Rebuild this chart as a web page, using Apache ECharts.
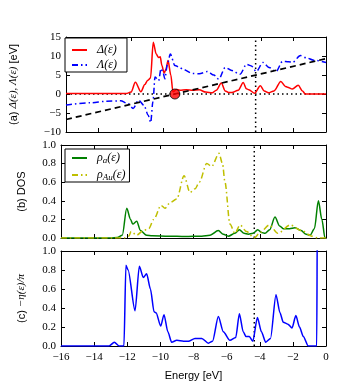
<!DOCTYPE html>
<html>
<head>
<meta charset="utf-8">
<script src="https://cdn.jsdelivr.net/npm/echarts@6/dist/echarts.min.js"></script>
<style>
  html, body { margin: 0; padding: 0; background: #fff; }
  #chart { width: 339px; height: 384px; }
</style>
</head>
<body>
<div id="chart"></div>
<script>
// panel (a): Delta and Lambda
var deltaE = [-16, -12.3, -12.0, -11.73, -11.39, -11.15, -10.97, -10.8, -10.63, -10.45, -10.3, -10.2, -10.1, -9.96, -9.85, -9.72, -9.55, -9.42, -9.2, -9.0, -8.6, -8.2, -7.8, -7.4, -7.0, -6.75, -6.44, -6.2, -6.0, -5.79, -5.4, -5.09, -4.9, -4.75, -4.39, -4.04, -3.8, -3.54, -3.2, -2.78, -2.5, -2.37, -2.07, -1.71, -1.45, -1.27, 0];
var deltaV = [0.1, 0.1, 0.5, 3.1, 0.6, 2.5, 3.6, 4.2, 13.6, 10.5, 9.6, 9.8, 7.5, 5.5, 6.5, 8.8, 5, 0.6, 1.2, 1.0, 1.1, 1.0, 1.1, 0.5, 0.3, 1.0, 2.9, 0.8, 0.4, 0.4, 1.0, 3.0, 1.4, 1.1, 0.2, 2.2, 0.8, 0.3, 0.8, 3.3, 2.0, 1.8, 1.3, 2.3, 0.8, 0, 0];
var lambdaE = [-16, -14.5, -13.5, -12.64, -12.2, -11.87, -11.53, -11.2, -10.95, -10.79, -10.65, -10.52, -10.3, -10.15, -10.02, -9.92, -9.75, -9.58, -9.3, -9.0, -8.81, -8.21, -7.8, -7.3, -6.9, -6.6, -6.2, -5.8, -5.29, -4.89, -4.59, -4.29, -3.88, -3.5, -3.08, -2.67, -2.3, -2.07, -1.57, -1.2, -0.76, 0];
var lambdaV = [-2.9, -2.3, -1.9, -1.8, -2.5, -3.8, -1.6, -3.0, -5.5, -7.5, -2.0, 4.5, 3.5, 6.7, 5.5, 4.0, 8.0, 10.5, 7.5, 7.0, 6.5, 5.4, 5.3, 5.9, 5.0, 3.9, 7.0, 6.2, 5.2, 7.8, 7.4, 5.9, 8.3, 7.0, 5.9, 8.6, 8.5, 8.3, 10.1, 9.5, 8.9, 8.3];
var lineE = [-16, 0];
var lineV = [-6.7, 9.3];
var dotPoint = [-9.3, 0];
var fermiE = -4.33;

// panel (b): DOS
var rhoAE = [-16, -13, -12.6, -12.3, -12.03, -11.8, -11.67, -11.43, -11.2, -10.83, -10.5, -9.5, -8.5, -7.5, -7.0, -6.5, -6.2, -5.9, -5.5, -5.23, -4.95, -4.69, -4.4, -4.12, -3.9, -3.68, -3.4, -3.08, -2.8, -2.58, -2.2, -1.87, -1.5, -1.2, -0.96, -0.7, -0.46, -0.25, -0.06, 0];
var rhoAV = [0, 0, 0.005, 0.03, 0.32, 0.2, 0.15, 0.18, 0.08, 0.03, 0.025, 0.02, 0.015, 0.02, 0.03, 0.08, 0.04, 0.02, 0.05, 0.09, 0.05, 0.04, 0.05, 0.09, 0.06, 0.05, 0.09, 0.225, 0.13, 0.1, 0.1, 0.11, 0.08, 0.04, 0.03, 0.1, 0.4, 0.2, 0.0, 0];
var rhoAuE = [-16, -12.2, -11.9, -11.77, -11.43, -11.03, -10.7, -10.4, -9.96, -9.72, -9.42, -9.01, -8.57, -8.21, -7.9, -7.65, -7.2, -6.9, -6.46, -6.25, -6.1, -5.8, -5.5, -5.19, -4.8, -4.33, -3.98, -3.42, -2.9, -2.17, -1.47, -0.86, -0.5, 0];
var rhoAuV = [0, 0, 0.02, 0.07, 0.03, 0.08, 0.1, 0.2, 0.35, 0.32, 0.38, 0.42, 0.67, 0.49, 0.53, 0.6, 0.8, 0.77, 0.91, 0.8, 0.6, 0.15, 0.05, 0.14, 0.07, 0.0, 0.06, 0.14, 0.05, 0.14, 0.08, 0.02, 0, 0];

// panel (c): -eta/pi
var etaE = [-16, -13.1, -12.78, -12.5, -12.2, -12.08, -11.95, -11.53, -11.27, -11.03, -10.83, -10.6, -10.38, -10.26, -9.98, -9.78, -9.55, -9.32, -9.01, -8.6, -8.31, -7.91, -7.5, -7.1, -6.85, -6.5, -6.2, -5.8, -5.45, -5.23, -5.0, -4.83, -4.63, -4.42, -4.14, -3.9, -3.64, -3.35, -3.02, -2.78, -2.58, -2.3, -2.05, -1.82, -1.6, -1.37, -1.07, -0.56, -0.52, -0.4, 0];
var etaV = [0, 0, 0.04, 0, 0, 0.85, 0.8, 0.37, 0.84, 0.72, 0.76, 0.6, 0.36, 0.35, 0.21, 0.33, 0.15, 0.04, 0.06, 0.05, 0.05, 0.08, 0.08, 0.03, 0.05, 0.31, 0.15, 0.06, 0.09, 0.34, 0.15, 0.1, 0.1, 0.05, 0.3, 0.15, 0.04, 0.08, 0.54, 0.35, 0.25, 0.23, 0.19, 0.32, 0.2, 0.1, 0, 0, 1.5, 1.5, 1.5];

function pairs(xs, ys) {
    return xs.map(function (x, i) { return [x, ys[i]]; });
}
function minus(v) {
    return String(v).replace('-', '\u2212');
}

var chart = echarts.init(document.getElementById('chart'), null, { renderer: 'canvas' });

var serif = 'Liberation Serif';
var sans = 'Liberation Sans';
var grids = [
    { left: 61, right: 13, top: 37, height: 95 },
    { left: 61, right: 13, top: 145, height: 93 },
    { left: 61, right: 13, top: 251, height: 95 }
];
var yRanges = [
    { min: -10, max: 15, interval: 5, fmt: function (v) { return minus(v); } },
    { min: 0, max: 1, interval: 0.2, fmt: function (v) { return v.toFixed(1); } },
    { min: 0, max: 1, interval: 0.2, fmt: function (v) { return v.toFixed(1); } }
];
var yNames = ['(a) {m|Δ(ε), Λ(ε)} [eV]', '(b) DOS', '(c) {m|−η(ε)/π}'];
var yGaps = [47, 34, 34];

var xAxes = [], yAxes = [];
grids.forEach(function (g, i) {
    [ 'bottom', 'top' ].forEach(function (pos) {
        xAxes.push({
            type: 'value', gridIndex: i, position: pos, min: -16, max: 0, interval: 2,
            axisLine: { show: true, onZero: false, lineStyle: { color: '#000', width: 1 } },
            axisTick: { show: true, inside: true, length: 4, lineStyle: { color: '#000' } },
            axisLabel: {
                show: i === 2 && pos === 'bottom', color: '#000', fontFamily: serif, fontSize: 11, margin: 6,
                formatter: function (v) { return minus(v); }
            },
            splitLine: { show: false },
            name: i === 2 && pos === 'bottom' ? 'Energy [eV]' : '',
            nameLocation: 'middle', nameGap: 24,
            nameTextStyle: { fontFamily: sans, fontSize: 11, color: '#000' }
        });
    });
    [ 'left', 'right' ].forEach(function (pos) {
        yAxes.push({
            type: 'value', gridIndex: i, position: pos,
            min: yRanges[i].min, max: yRanges[i].max, interval: yRanges[i].interval,
            axisLine: { show: true, onZero: false, lineStyle: { color: '#000', width: 1 } },
            axisTick: { show: true, inside: true, length: 4, lineStyle: { color: '#000' } },
            axisLabel: { show: pos === 'left', color: '#000', fontFamily: serif, fontSize: 11, margin: 5, formatter: yRanges[i].fmt },
            splitLine: { show: false },
            name: pos === 'left' ? yNames[i] : '',
            nameLocation: 'middle', nameGap: yGaps[i], nameRotate: 90,
            nameTextStyle: {
                fontFamily: sans, fontSize: 11, color: '#000',
                rich: { m: { fontFamily: serif, fontStyle: 'italic', fontSize: 11, color: '#000' } }
            }
        });
    });
});

function lineSeries(name, data, panel, color, type, width, smooth) {
    return {
        name: name, type: 'line', data: data,
        xAxisIndex: panel * 2, yAxisIndex: panel * 2,
        symbol: 'none', smooth: smooth, smoothMonotone: 'x',
        lineStyle: { color: color, width: width, type: type },
        itemStyle: { color: color },
        silent: true, animation: false
    };
}

var dotted = [1.5, 3];
var series = [
    lineSeries('zero', pairs([-16, 0], [0, 0]), 0, '#000', dotted, 1.5, false),
    lineSeries('fa', pairs([fermiE, fermiE], [-10, 15]), 0, '#000', dotted, 1.5, false),
    lineSeries('fb', pairs([fermiE, fermiE], [0, 1]), 1, '#000', dotted, 1.5, false),
    lineSeries('fc', pairs([fermiE, fermiE], [0, 1]), 2, '#000', dotted, 1.5, false),
    lineSeries('Δ(ε)', pairs(deltaE, deltaV), 0, '#ff0000', 'solid', 1.5, 0.3),
    lineSeries('Λ(ε)', pairs(lambdaE, lambdaV), 0, '#0000ff', [6, 3, 1.5, 3], 1.5, 0.3),
    lineSeries('eline', pairs(lineE, lineV), 0, '#000', [6, 4], 1.7, false),
    {
        type: 'scatter', xAxisIndex: 0, yAxisIndex: 0, data: [dotPoint],
        symbolSize: 10, itemStyle: { color: '#ff0000', borderColor: '#000', borderWidth: 1 },
        silent: true, animation: false, z: 5
    },
    lineSeries('ρa(ε)', pairs(rhoAE, rhoAV), 1, '#008000', 'solid', 1.5, 0.3),
    lineSeries('ρAu(ε)', pairs(rhoAuE, rhoAuV), 1, '#bfbf00', [6, 3, 1.5, 3], 1.5, 0.3),
    lineSeries('eta', pairs(etaE, etaV), 2, '#0000ff', 'solid', 1.5, 0.25)
];

var legendRich = {
    i: { fontFamily: serif, fontStyle: 'italic', fontSize: 12, color: '#000', padding: [0, 0, 0, 0] },
    s: { fontFamily: serif, fontStyle: 'italic', fontSize: 9, color: '#000', padding: [5, 0, 0, 0] },
    g: { width: 5 }
};
var legendLabels = {
    'Δ(ε)': '{g|}{i|Δ(ε)}',
    'Λ(ε)': '{g|}{i|Λ(ε)}',
    'ρa(ε)': '{g|}{i|ρ}{s|a}{i|(ε)}',
    'ρAu(ε)': '{g|}{i|ρ}{s|Au}{i|(ε)}'
};
function legendBox(names, left, top, gap, pad) {
    return {
        data: names, left: left, top: top, orient: 'vertical',
        itemWidth: 15, itemHeight: 12, itemGap: gap,
        padding: pad,
        borderColor: '#000', borderWidth: 1, borderRadius: 0, backgroundColor: '#fff',
        selectedMode: false,
        itemStyle: { color: 'rgba(0,0,0,0)', borderWidth: 0, opacity: 0 },
        textStyle: { fontFamily: serif, fontSize: 12, lineHeight: 12, color: '#000', rich: legendRich },
        formatter: function (n) { return legendLabels[n]; }
    };
}

chart.setOption({
    animation: false,
    grid: grids,
    xAxis: xAxes,
    yAxis: yAxes,
    legend: [
        legendBox(['Δ(ε)', 'Λ(ε)'], 65, 38, 3, [6, 10, 1, 6]),
        legendBox(['ρa(ε)', 'ρAu(ε)'], 65, 149, 4, [3, 4, 0, 6])
    ],
    series: series
});
</script>
</body>
</html>
